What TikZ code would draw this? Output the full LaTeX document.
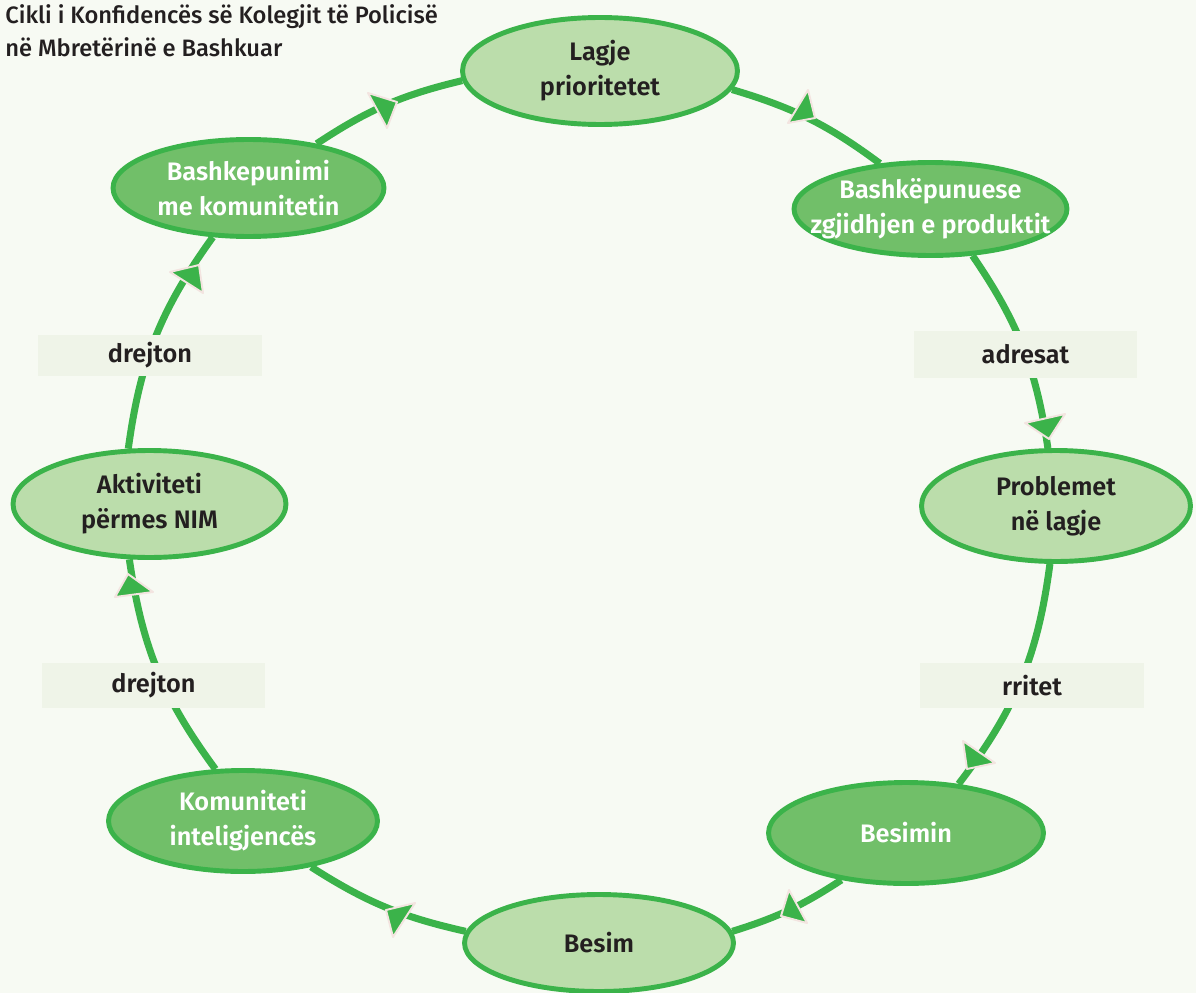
\documentclass[tikz,border=0pt]{standalone}
\usepackage{fontspec}
\setmainfont{Fira Sans}[BoldFont={* SemiBold}]
\newfontfamily\titlefont{Fira Sans Medium}
\usetikzlibrary{shapes.geometric}
\definecolor{pagebg}{RGB}{247,250,243}
\definecolor{loopgreen}{RGB}{59,179,74}
\definecolor{palefill}{RGB}{187,221,171}
\definecolor{deepfill}{RGB}{113,191,105}
\definecolor{tagfill}{RGB}{239,244,232}
\definecolor{ink}{RGB}{35,31,32}
\definecolor{tipedge}{RGB}{243,228,224}
\pgfdeclarelayer{back}
\pgfdeclarelayer{links}
\pgfsetlayers{back,links,main}
\begin{document}
\begin{tikzpicture}[x=0.02cm,y=-0.02cm,
  ring/.style={ellipse, draw=loopgreen, line width=2.8pt, inner sep=0pt},
  pale/.style={ring, fill=palefill},
  deep/.style={ring, fill=deepfill},
  caption/.style={align=center, inner sep=0pt, text=ink,
    font=\bfseries\fontsize{14.4}{20}\selectfont},
  captionw/.style={caption, text=white},
  tag/.style={fill=tagfill, inner sep=0pt, text=ink,
    minimum width=4.48cm, font=\bfseries\fontsize{14.4}{20}\selectfont},
  link/.style={draw=loopgreen, line width=4pt},
  tip/.style={fill=loopgreen, draw=tipedge, line width=1.1pt, line join=round}
]
\useasboundingbox (0,0) rectangle (1196,993);
\begin{pgfonlayer}{back}
  \fill[pagebg] (0,0) rectangle (1196,993);
\end{pgfonlayer}

% title
\node[anchor=north west, align=left, inner sep=0pt, text=ink,
  font=\titlefont\fontsize{13.5}{18.9}\selectfont] (title) at (5,4)
  {Cikli i Konfidencës së Kolegjit të Policisë\\në Mbretërinë e Bashkuar};

% stages of the cycle
\node[pale, minimum width=5.5cm,  minimum height=2.14cm] (lagje)   at (600,71)    {};
\node[deep, minimum width=5.46cm, minimum height=1.86cm] (prod)    at (930.5,209) {};
\node[pale, minimum width=5.38cm, minimum height=2.22cm] (probl)   at (1056,506)  {};
\node[deep, minimum width=5.5cm,  minimum height=2.02cm] (besimin) at (906,833)   {};
\node[pale, minimum width=5.38cm, minimum height=1.94cm] (besim)   at (599,943)   {};
\node[deep, minimum width=5.38cm, minimum height=2.02cm] (komun)   at (243,821)   {};
\node[pale, minimum width=5.46cm, minimum height=2.14cm] (aktiv)   at (149.5,504) {};
\node[deep, minimum width=5.42cm, minimum height=1.94cm] (bashk)   at (248.5,188) {};

\node[caption]  (tlagje)   at (lagje)   {Lagje\\prioritetet};
\node[captionw] (tprod)    at (prod)    {Bashkëpunuese\\zgjidhjen e produktit};
\node[caption]  (tprobl)   at (probl)   {Problemet\\në lagje};
\node[captionw] (tbesimin) at (besimin) {Besimin};
\node[caption]  (tbesim)   at (besim)   {Besim};
\node[captionw] (tkomun)   at (komun)   {Komuniteti\\inteligjencës};
\node[caption]  (taktiv)   at (aktiv)   {Aktiviteti\\përmes NIM};
\node[captionw] (tbashk)   at (bashk)   {Bashkepunimi\\me komunitetin};

% connectors round the loop
\begin{pgfonlayer}{links}
  \draw[link] (bashk.33.5)  to[bend left=10] (lagje.184.6);
  \draw[link] (lagje.352.8) to[bend left=10] (prod.138);
  \draw[link] (prod.312)    to[bend left=13] (probl.98.8);
  \draw[link] (probl.264)   to[bend left=15] (besimin.43.4);
  \draw[link] (besimin.216.6) to[bend left=8] (besim.5.5);
  \draw[link] (besim.175.4) to[bend left=10] (komun.326.5);
  \draw[link] (komun.118.8) to[bend left=14] (aktiv.250.8);
  \draw[link] (aktiv.111.5) to[bend left=14] (bashk.234.9);
\end{pgfonlayer}

% labels on the connectors
\node[tag, minimum height=0.82cm] (d1) at (150,355.5)  {drejton};
\node[tag, minimum height=0.94cm] (ad) at (1025.5,354.5) {adresat};
\node[tag, minimum height=0.9cm]  (d2) at (153.5,685.5)  {drejton};
\node[tag, minimum height=0.9cm]  (rr) at (1032,685.5)   {rritet};

% direction marks
\path[tip] (368,93) -- (397,102) -- (387,128) -- cycle;
\path[tip] (808,90) -- (788,123) -- (815,118) -- cycle;
\path[tip] (1025,423) -- (1065,414) -- (1049,439) -- cycle;
\path[tip] (963,741) -- (967,769) -- (995,763) -- cycle;
\path[tip] (789,890) -- (781,916) -- (807,923) -- cycle;
\path[tip] (386,910) -- (415,903) -- (393,937) -- cycle;
\path[tip] (128,574) -- (153,592) -- (115,597) -- cycle;
\path[tip] (170,272) -- (199,265) -- (203,293) -- cycle;
\end{tikzpicture}
\end{document}
